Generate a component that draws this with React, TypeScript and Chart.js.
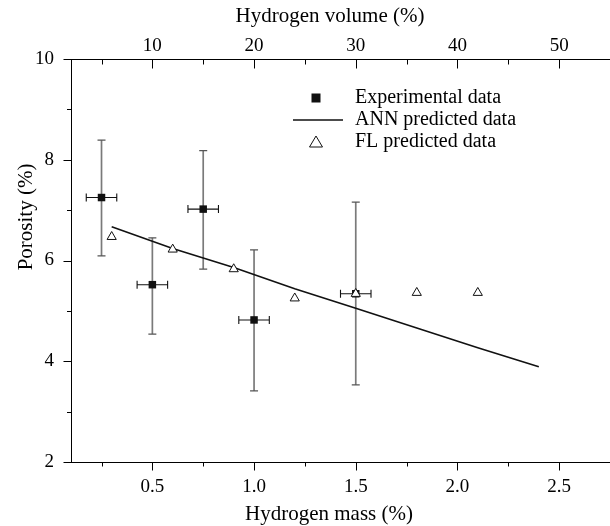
import React, { useEffect, useRef } from 'react';
import { Chart, registerables } from 'chart.js';

Chart.register(...registerables);

// ---- data ----
const expMass = [0.25, 0.5, 0.75, 1.0, 1.5];
const expPorosity = [7.25, 5.52, 7.02, 4.82, 5.34];
const expUpper = [8.39, 6.45, 8.18, 6.21, 7.16];
const expLower = [6.09, 4.54, 5.83, 3.41, 3.53];
const expMassErr = [0.075, 0.075, 0.075, 0.075, 0.075];

const annMass = [0.3, 0.6, 0.9, 1.2, 1.5, 1.8, 2.1, 2.4];
const annPorosity = [6.67, 6.24, 5.86, 5.44, 5.05, 4.66, 4.27, 3.89];

const flMass = [0.3, 0.6, 0.9, 1.2, 1.5, 1.8, 2.1];
const flPorosity = [6.47, 6.22, 5.83, 5.25, 5.34, 5.36, 5.36];

const massMajorTicks = [0.5, 1.0, 1.5, 2.0, 2.5];
const massMinorTicks = [0.25, 0.75, 1.25, 1.75, 2.25];
const volumeMajorTicks = [10, 20, 30, 40, 50];
const volumeMinorTicks = [5, 15, 25, 35, 45];
const porosityMajorTicks = [2, 4, 6, 8, 10];
const porosityMinorTicks = [3, 5, 7, 9];

const legendLabels = ['Experimental data', 'ANN predicted data', 'FL predicted data'];
const xTitle = 'Hydrogen mass (%)';
const x2Title = 'Hydrogen volume (%)';
const yTitle = 'Porosity (%)';

const FONT = "'Liberation Serif', 'Times New Roman', serif";

const errorBarPlugin = {
  id: 'errorBars',
  beforeDatasetsDraw(chart: any) {
    const { ctx, scales } = chart;
    const x = scales.x;
    const y = scales.y;
    ctx.save();
    for (let i = 0; i < expMass.length; i++) {
      const px = x.getPixelForValue(expMass[i]);
      const py = y.getPixelForValue(expPorosity[i]);
      const top = y.getPixelForValue(expUpper[i]);
      const bot = y.getPixelForValue(expLower[i]);
      ctx.strokeStyle = '#7a7a7a';
      ctx.lineWidth = 1.7;
      ctx.beginPath();
      ctx.moveTo(px, top);
      ctx.lineTo(px, bot);
      ctx.stroke();
      ctx.strokeStyle = '#555';
      ctx.lineWidth = 1.2;
      ctx.beginPath();
      ctx.moveTo(px - 4, top);
      ctx.lineTo(px + 4, top);
      ctx.moveTo(px - 4, bot);
      ctx.lineTo(px + 4, bot);
      ctx.stroke();
      const l = x.getPixelForValue(expMass[i] - expMassErr[i]);
      const r = x.getPixelForValue(expMass[i] + expMassErr[i]);
      ctx.strokeStyle = '#111';
      ctx.lineWidth = 1.1;
      ctx.beginPath();
      ctx.moveTo(l, py);
      ctx.lineTo(r, py);
      ctx.moveTo(l, py - 4);
      ctx.lineTo(l, py + 4);
      ctx.moveTo(r, py - 4);
      ctx.lineTo(r, py + 4);
      ctx.stroke();
    }
    ctx.restore();
  },
};

const tickPlugin = {
  id: 'axisTicks',
  afterDraw(chart: any) {
    const { ctx, scales } = chart;
    const x = scales.x;
    const x2 = scales.x2;
    const y = scales.y;
    ctx.save();
    ctx.strokeStyle = '#000';
    ctx.lineWidth = 1;
    ctx.beginPath();
    const b = Math.round(x.top) + 0.5;
    massMajorTicks.forEach((v) => {
      const p = Math.round(x.getPixelForValue(v)) + 0.5;
      ctx.moveTo(p, b);
      ctx.lineTo(p, b + 8);
    });
    massMinorTicks.forEach((v) => {
      const p = Math.round(x.getPixelForValue(v)) + 0.5;
      ctx.moveTo(p, b);
      ctx.lineTo(p, b + 4);
    });
    const t = Math.round(x2.bottom) + 0.5;
    volumeMajorTicks.forEach((v) => {
      const p = Math.round(x2.getPixelForValue(v)) + 0.5;
      ctx.moveTo(p, t);
      ctx.lineTo(p, t + 9);
    });
    volumeMinorTicks.forEach((v) => {
      const p = Math.round(x2.getPixelForValue(v)) + 0.5;
      ctx.moveTo(p, t);
      ctx.lineTo(p, t + 5);
    });
    const lft = Math.round(y.right) + 0.5;
    porosityMajorTicks.forEach((v) => {
      const p = Math.round(y.getPixelForValue(v)) + 0.5;
      ctx.moveTo(lft, p);
      ctx.lineTo(lft - 8, p);
    });
    porosityMinorTicks.forEach((v) => {
      const p = Math.round(y.getPixelForValue(v)) + 0.5;
      ctx.moveTo(lft, p);
      ctx.lineTo(lft - 4.5, p);
    });
    ctx.stroke();

    // axis titles
    ctx.fillStyle = '#000';
    ctx.font = `21px ${FONT}`;
    ctx.textAlign = 'center';
    ctx.textBaseline = 'middle';
    ctx.fillText(xTitle, x.left + 258, x.bottom - 12);
    ctx.fillText(x2Title, x2.left + 259, x2.top + 16);
    ctx.save();
    ctx.translate(y.left + 26, y.top + 158);
    ctx.rotate(-Math.PI / 2);
    ctx.fillText(yTitle, 0, 0);
    ctx.restore();
    ctx.restore();
  },
};

const legendPlugin = {
  id: 'innerLegend',
  afterDraw(chart: any) {
    const { ctx, chartArea } = chart;
    const sx = chartArea.left + 245;
    const tx = chartArea.left + 284;
    const rows = [chartArea.top + 39, chartArea.top + 61, chartArea.top + 83];
    ctx.save();
    ctx.fillStyle = '#111';
    ctx.fillRect(sx - 4.5, rows[0] - 4.5, 9, 9);
    ctx.strokeStyle = '#111';
    ctx.lineWidth = 1.6;
    ctx.beginPath();
    ctx.moveTo(sx - 23, rows[1]);
    ctx.lineTo(sx + 27, rows[1]);
    ctx.stroke();
    ctx.lineWidth = 1;
    ctx.fillStyle = '#fff';
    ctx.beginPath();
    ctx.moveTo(sx, rows[2] - 6);
    ctx.lineTo(sx + 6.5, rows[2] + 5);
    ctx.lineTo(sx - 6.5, rows[2] + 5);
    ctx.closePath();
    ctx.fill();
    ctx.stroke();
    ctx.fillStyle = '#000';
    ctx.font = `20px ${FONT}`;
    ctx.textAlign = 'left';
    ctx.textBaseline = 'middle';
    legendLabels.forEach((lab, i) => ctx.fillText(lab, tx, rows[i]));
    ctx.restore();
  },
};

export default function App() {
  const ref = useRef<HTMLCanvasElement | null>(null);

  useEffect(() => {
    if (!ref.current) return;
    const tickFont = { family: FONT, size: 19, lineHeight: 1 };
    const chart = new Chart(ref.current, {
      type: 'scatter',
      data: {
        datasets: [
          {
            label: legendLabels[0],
            data: expMass.map((m, i) => ({ x: m, y: expPorosity[i] })),
            pointStyle: 'rect',
            pointRadius: 5.3,
            backgroundColor: '#111',
            borderColor: '#111',
            borderWidth: 0,
            order: 3,
          },
          {
            label: legendLabels[1],
            type: 'line',
            data: annMass.map((m, i) => ({ x: m, y: annPorosity[i] })),
            showLine: true,
            borderColor: '#111',
            borderWidth: 1.6,
            pointRadius: 0,
            tension: 0,
            fill: false,
            order: 2,
          },
          {
            label: legendLabels[2],
            data: flMass.map((m, i) => ({ x: m, y: flPorosity[i] })),
            pointStyle: 'triangle',
            pointRadius: 5.3,
            backgroundColor: '#fff',
            borderColor: '#111',
            borderWidth: 1,
            order: 1,
          },
        ],
      },
      options: {
        responsive: false,
        animation: false,
        devicePixelRatio: 1,
        layout: { padding: 0, autoPadding: false },
        plugins: {
          legend: { display: false },
          tooltip: { enabled: false },
        },
        scales: {
          x: {
            type: 'linear',
            position: 'bottom',
            min: 0.1,
            max: 2.75,
            afterBuildTicks: (s: any) => {
              s.ticks = massMajorTicks.map((v) => ({ value: v }));
            },
            afterFit: (s: any) => {
              s.height = 64;
            },
            ticks: {
              autoSkip: false,
              maxRotation: 0,
              padding: 16,
              color: '#000',
              font: tickFont,
              callback: (v: any) => Number(v).toFixed(1),
            },
            grid: { display: true, drawOnChartArea: false, drawTicks: false, color: 'rgba(0,0,0,0)' },
            border: { display: true, color: '#000', width: 1 },
            title: { display: false },
          },
          x2: {
            type: 'linear',
            position: 'top',
            min: 2,
            max: 55,
            afterBuildTicks: (s: any) => {
              s.ticks = volumeMajorTicks.map((v) => ({ value: v }));
            },
            afterFit: (s: any) => {
              s.height = 59;
            },
            ticks: {
              autoSkip: false,
              maxRotation: 0,
              padding: 3,
              color: '#000',
              font: tickFont,
              callback: (v: any) => String(v),
            },
            grid: { display: true, drawOnChartArea: false, drawTicks: false, color: 'rgba(0,0,0,0)' },
            border: { display: true, color: '#000', width: 1 },
            title: { display: false },
          },
          y: {
            type: 'linear',
            position: 'left',
            min: 2,
            max: 10,
            afterBuildTicks: (s: any) => {
              s.ticks = porosityMajorTicks.map((v) => ({ value: v }));
            },
            afterFit: (s: any) => {
              s.width = 71;
            },
            ticks: {
              autoSkip: false,
              padding: 17,
              color: '#000',
              font: tickFont,
              callback: (v: any) => String(v),
            },
            grid: { display: true, drawOnChartArea: false, drawTicks: false, color: 'rgba(0,0,0,0)' },
            border: { display: true, color: '#000', width: 1 },
            title: { display: false },
          },
        },
      },
      plugins: [errorBarPlugin, tickPlugin, legendPlugin],
    } as any);
    return () => chart.destroy();
  }, []);

  return (
    <div style={{ position: 'absolute', left: 0, top: 0, width: 610, height: 526, background: '#fff' }}>
      <canvas ref={ref} width={610} height={526} style={{ width: 610, height: 526, display: 'block' }} />
    </div>
  );
}
